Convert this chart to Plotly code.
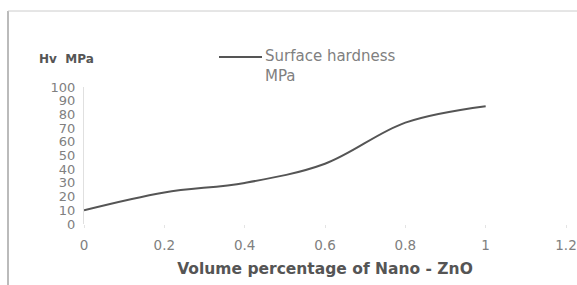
import plotly.graph_objects as go

x_vals = [0, 0.2, 0.4, 0.6, 0.8, 1.0]
hardness = [10, 23, 30, 44, 74, 86]
x_ticks = [0, 0.2, 0.4, 0.6, 0.8, 1, 1.2]
x_tick_labels = ["0", "0.2", "0.4", "0.6", "0.8", "1", "1.2"]
y_ticks = [0, 10, 20, 30, 40, 50, 60, 70, 80, 90, 100]

W, H = 577, 285
L, R, T, B = 84, 11, 87, 61
pw, ph = W - L - R, H - T - B

def px(xp):
    return (xp - L) / pw

def py(yp):
    return (H - B - yp) / ph

fig = go.Figure()
fig.add_trace(go.Scatter(
    x=x_vals, y=hardness, mode="lines",
    line=dict(color="#555555", width=2, shape="spline", smoothing=1.0),
    name="Surface hardness MPa", showlegend=False,
))

font = "'DejaVu Sans', sans-serif"
fig.update_layout(
    width=W, height=H,
    margin=dict(l=L, r=R, t=T, b=B),
    paper_bgcolor="white", plot_bgcolor="white",
    font=dict(family=font, size=12, color="#808080"),
    showlegend=False,
    xaxis=dict(range=[0, 1.2], tickvals=x_ticks, ticktext=x_tick_labels,
               showgrid=False, zeroline=False, showline=False, automargin=False,
               ticks="outside", ticklen=3, tickcolor="#e4e4e4",
               ticklabelstandoff=6,
               tickfont=dict(size=13.5, color="#808080"),
               title=dict(text="<b>Volume percentage of Nano - ZnO</b>",
                          font=dict(size=15.5, color="#555555"), standoff=10)),
    yaxis=dict(range=[0, 100], tickvals=y_ticks, automargin=False,
               showgrid=False, zeroline=False, showline=True,
               linecolor="#e0e0e0", linewidth=1,
               ticks="", ticklabelstandoff=5,
               tickfont=dict(size=13, color="#808080")),
    annotations=[
        dict(text="<b>Hv  MPa</b>", xref="paper", yref="paper",
             x=px(37), y=py(59), xanchor="left", yanchor="middle",
             showarrow=False, font=dict(size=12, color="#555555")),
        dict(text="Surface hardness<br>MPa", xref="paper", yref="paper",
             x=px(263), y=py(66), xanchor="left", yanchor="middle", align="left",
             showarrow=False, font=dict(size=15, color="#808080")),
    ],
    shapes=[
        dict(type="line", xref="paper", yref="paper",
             x0=px(219), x1=px(262), y0=py(57), y1=py(57),
             line=dict(color="#555555", width=2)),
        dict(type="line", xref="paper", yref="paper",
             x0=px(8), x1=px(8), y0=py(11), y1=py(290),
             line=dict(color="#bbbbbb", width=2)),
        dict(type="line", xref="paper", yref="paper",
             x0=px(8), x1=px(580), y0=py(11), y1=py(11),
             line=dict(color="#cccccc", width=1)),
    ],
)

fig.write_html("out.html", config={"displayModeBar": False},
               post_script="document.body.style.margin='0';document.body.style.overflow='hidden';")
